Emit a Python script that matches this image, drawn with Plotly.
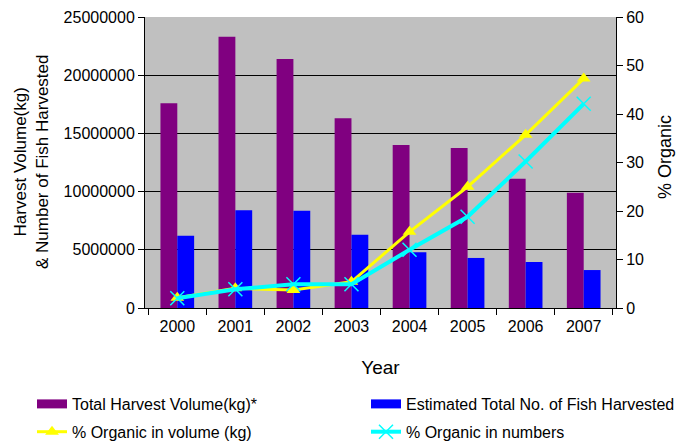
import plotly.graph_objects as go

years = ["2000", "2001", "2002", "2003", "2004", "2005", "2006", "2007"]
harvest_volume = [17600000, 23300000, 21400000, 16300000, 14000000, 13750000, 11100000, 9900000]
fish_number = [6200000, 8400000, 8350000, 6300000, 4800000, 4300000, 3950000, 3260000]
organic_volume = [2.1, 4.05, 3.7, 5.4, 15.7, 25.0, 35.7, 47.3]
organic_numbers = [2.0, 3.85, 4.9, 4.9, 12.0, 18.8, 30.2, 42.1]

left_title = "Harvest Volume(kg)<br>& Number of Fish Harvested"
right_title = "% Organic"

font = "Liberation Sans, Arial, sans-serif"
FS = 16

PURPLE = "#800080"
BLUE = "#0000FF"
YELLOW = "#FFFF00"
CYAN = "#00FFFF"

L, R, T, B, W, H = 145, 74, 17, 133, 690, 441
PW = W - L - R
PH = H - T - B

fig = go.Figure()
# legend swatches (bars are drawn below without legend entries)
fig.add_trace(go.Scatter(x=[None], y=[None], mode="lines", name="Total Harvest Volume(kg)*",
                         line=dict(color=PURPLE, width=9), legend="legend",
                         legendgroup="a", hoverinfo="skip"))
fig.add_trace(go.Scatter(x=[None], y=[None], mode="lines", name="Estimated Total No. of Fish Harvested",
                         line=dict(color=BLUE, width=9), legend="legend2",
                         legendgroup="b", hoverinfo="skip"))

fig.add_trace(go.Bar(x=years, y=harvest_volume, name="Total Harvest Volume(kg)*",
                     marker=dict(color=PURPLE, line=dict(width=0)), showlegend=False,
                     legendgroup="a"))
fig.add_trace(go.Bar(x=years, y=fish_number, name="Estimated Total No. of Fish Harvested",
                     marker=dict(color=BLUE, line=dict(width=0)), showlegend=False,
                     legendgroup="b"))
fig.add_trace(go.Scatter(x=years, y=organic_volume, name="% Organic in volume (kg)", yaxis="y2",
                         mode="lines+markers", line=dict(color=YELLOW, width=3),
                         marker=dict(symbol="triangle-up", size=12, color=YELLOW),
                         legend="legend", legendgroup="c"))
fig.add_trace(go.Scatter(x=years, y=organic_numbers, name="% Organic in numbers", yaxis="y2",
                         mode="lines+markers", line=dict(color=CYAN, width=4),
                         marker=dict(symbol="x-thin", size=14, color=CYAN,
                                     line=dict(color=CYAN, width=1.5)),
                         legend="legend2", legendgroup="d"))

legend_common = dict(orientation="v", xref="container", yref="container",
                     xanchor="left", yanchor="top", font=dict(size=FS, family=font),
                     bgcolor="rgba(0,0,0,0)", tracegroupgap=4, borderwidth=0)

fig.update_layout(
    width=W, height=H,
    margin=dict(l=L, r=R, t=T, b=B, autoexpand=False),
    paper_bgcolor="white", plot_bgcolor="#C0C0C0",
    font=dict(family=font, size=FS, color="black"),
    barmode="group", bargap=0.42, bargroupgap=0,
    xaxis=dict(type="category", tickson="boundaries", ticks="outside", ticklen=6,
               tickcolor="black", showline=True, linecolor="black", linewidth=1,
               showgrid=False, title=dict(text="Year", standoff=26),
               ticklabelstandoff=4),
    yaxis=dict(range=[0, 25000000], dtick=5000000, tickformat="d", ticks="outside",
               ticklen=6, tickcolor="black", showline=True, linecolor="black",
               showgrid=True, gridcolor="black", gridwidth=1, zeroline=False),
    yaxis2=dict(range=[0, 60], dtick=10, overlaying="y", side="right", ticks="outside",
                ticklen=6, tickcolor="black", showline=True, linecolor="black",
                showgrid=False, zeroline=False),
    legend=dict(x=32 / W, y=1 - 387 / H, **legend_common),
    legend2=dict(x=366 / W, y=1 - 387 / H, **legend_common),
    showlegend=True,
    annotations=[
        dict(text=left_title, textangle=-90, xref="paper", yref="paper",
             x=(31 - L) / PW, y=1 - (162 - T) / PH, xanchor="center", yanchor="middle",
             showarrow=False, font=dict(size=17, family=font)),
        dict(text=right_title, textangle=-90, xref="paper", yref="paper",
             x=(665 - L) / PW, y=1 - (157 - T) / PH, xanchor="center", yanchor="middle",
             showarrow=False, font=dict(size=18, family=font)),
    ],
)

fig.write_html("out.html")
